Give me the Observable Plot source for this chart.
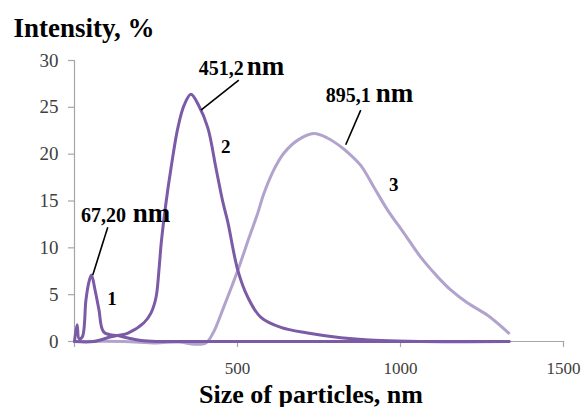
<!DOCTYPE html>
<html>
<head>
<meta charset="utf-8">
<script src="https://cdn.jsdelivr.net/npm/d3@7"></script>
<script src="https://cdn.jsdelivr.net/npm/@observablehq/plot@0.6"></script>
<style>
  html, body { margin: 0; padding: 0; background: #fff; }
  #chart svg { display: block; }
  #chart svg, #chart svg text { font-family: 'Liberation Serif', 'Times New Roman', serif !important; }
</style>
</head>
<body>
<div id="chart"></div>
<script>
// Series data (size in nm, intensity in %)
const curve1X = [0, 8, 14, 24, 35, 44, 52, 63, 75, 90, 136, 204, 265, 400, 700, 1000, 1333];
const curve1Y = [0, 1.8, 0.3, 0.5, 4.4, 6.3, 7.1, 5.5, 3.4, 1.0, 0.6, 0.1, 0, 0, 0, 0, 0];

const curve2X = [0, 60, 112, 164, 213, 234, 250, 259, 266, 281, 296, 317, 336, 357, 381, 409, 434, 455, 470, 501, 532, 571, 633, 715, 817, 940, 1060, 1333];
const curve2Y = [0, 0, 0.5, 0.9, 2.0, 3.0, 4.7, 7.6, 10.5, 14.9, 18.5, 22.8, 25.2, 26.4, 25.2, 22.8, 18.5, 14.9, 12.8, 7.6, 4.7, 2.6, 1.5, 0.9, 0.4, 0.1, 0, 0];

const curve3X = [0, 150, 250, 320, 370, 403, 425, 458, 501, 535, 562, 581, 611, 642, 685, 734, 777, 817, 838, 878, 918, 961, 1010, 1062, 1114, 1154, 1206, 1267, 1332];
const curve3Y = [0, 0, -0.15, -0.05, -0.3, -0.15, 0.9, 3.7, 7.6, 11.05, 13.7, 15.8, 18.3, 20.1, 21.5, 22.2, 21.7, 20.8, 20.2, 18.8, 16.5, 14.0, 11.6, 9.0, 6.9, 5.5, 4.1, 2.8, 0.9];

// Tick values
const xTicks = [0, 500, 1000, 1500];
const yTicks = [0, 5, 10, 15, 20, 25, 30];

// Annotations
const peakNumbers = ["67,20", "451,2", "895,1"];
const peakNumX = [158, 519, 909];
const peakNumY = [12.75, 28.5, 25.55];
const peakUnitX = [179, 528, 924];
const leaderX1 = [102, 504, 878];
const leaderY1 = [12.2, 27.9, 24.7];
const leaderX2 = [56, 388, 832];
const leaderY2 = [7.1, 24.7, 21.0];

const curveNames = ["1", "2", "3"];
const curveNameX = [115, 464, 979];
const curveNameY = [4.5, 20.8, 16.7];

const yTitle = "Intensity, %";
const xTitle = "Size of particles, nm";

const dark = "#7b5aa6";
const light = "#b2a3cd";

const toPts = (xs, ys) => xs.map((x, i) => ({x, y: ys[i]}));
const c1 = toPts(curve1X, curve1Y);
const c2 = toPts(curve2X, curve2Y);
const c3 = toPts(curve3X, curve3Y);
const nums = peakNumbers.map((t, i) => ({t, x: peakNumX[i], y: peakNumY[i], ux: peakUnitX[i]}));
const leaders = leaderX1.map((x1, i) => ({x1, y1: leaderY1[i], x2: leaderX2[i], y2: leaderY2[i]}));
const names = curveNames.map((t, i) => ({t, x: curveNameX[i], y: curveNameY[i]}));

const serif = "'Liberation Serif', 'Times New Roman', serif";

const chart = Plot.plot({
  width: 585,
  height: 407,
  marginLeft: 74,
  marginRight: 22,
  marginTop: 60,
  marginBottom: 66,
  style: {fontFamily: serif, background: "#fff", overflow: "visible"},
  x: {domain: [0, 1500]},
  y: {domain: [0, 30]},
  marks: [
    Plot.frame({anchor: "left", stroke: "#a6a6a6", strokeWidth: 1.2}),
    Plot.frame({anchor: "bottom", stroke: "#a6a6a6", strokeWidth: 1.2}),
    Plot.axisY({ticks: yTicks, tickSize: 6, tickPadding: 10, label: null,
      fontSize: 19, fontFamily: serif, fill: "#404040", stroke: "#a6a6a6", strokeWidth: 1.2}),
    Plot.axisX({ticks: xTicks, tickSize: 6, tickPadding: 14, label: null,
      tickFormat: d => d === 0 ? "" : String(d),
      fontSize: 17, fontFamily: serif, fill: "#404040", stroke: "#a6a6a6", strokeWidth: 1.2}),
    Plot.line(c3, {x: "x", y: "y", stroke: light, strokeWidth: 3, curve: "catmull-rom"}),
    Plot.line(c1, {x: "x", y: "y", stroke: dark, strokeWidth: 3, curve: "catmull-rom"}),
    Plot.line(c2, {x: "x", y: "y", stroke: dark, strokeWidth: 3, curve: "catmull-rom"}),
    Plot.link(leaders, {x1: "x1", y1: "y1", x2: "x2", y2: "y2", stroke: "#000", strokeWidth: 1.6}),
    Plot.text(nums, {x: "x", y: "y", text: "t", textAnchor: "end", lineAnchor: "bottom",
      fontSize: 20, fontWeight: "bold", fontFamily: serif, fill: "#000"}),
    Plot.text(nums, {x: "ux", y: "y", text: () => "nm", textAnchor: "start", lineAnchor: "bottom",
      fontSize: 27, fontWeight: "bold", fontFamily: serif, fill: "#000"}),
    Plot.text(names, {x: "x", y: "y", text: "t", textAnchor: "middle", lineAnchor: "middle",
      fontSize: 19, fontWeight: "bold", fontFamily: serif, fill: "#000"}),
    Plot.text([yTitle], {frameAnchor: "top-left", text: d => d, textAnchor: "start", lineAnchor: "bottom",
      dx: -61, dy: -24, fontSize: 27, fontWeight: "bold", fontFamily: serif, fill: "#000"}),
    Plot.text([xTitle], {frameAnchor: "bottom", text: d => d, textAnchor: "middle", lineAnchor: "bottom",
      dx: -8, dy: 61, fontSize: 26, fontWeight: "bold", fontFamily: serif, fill: "#000"})
  ]
});
document.getElementById("chart").appendChild(chart);
</script>
</body>
</html>
